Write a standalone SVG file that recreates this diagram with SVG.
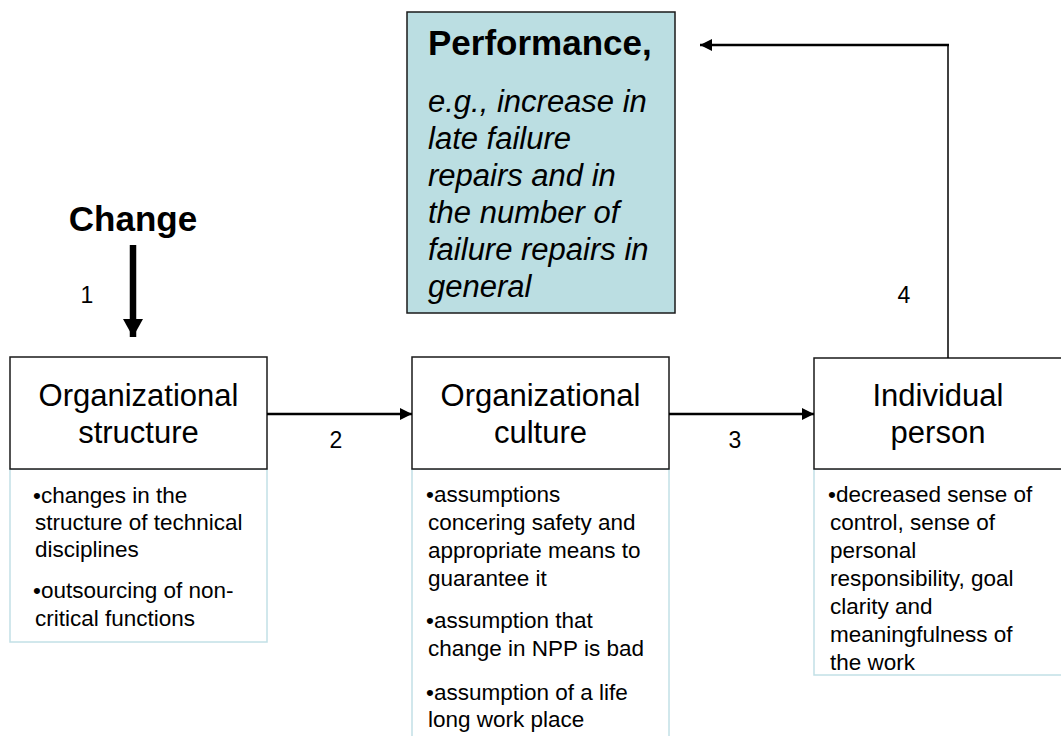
<svg xmlns="http://www.w3.org/2000/svg" width="1061" height="736" viewBox="0 0 1061 736">
<style>
.hdr{fill:#fff;stroke:#1a1a1a;stroke-width:1.5}
.blt{fill:#fff;stroke:#c2e0e6;stroke-width:1.5}
.t{font-family:"Liberation Sans",Arial,sans-serif;fill:#000}
.h{font-size:31px;text-anchor:middle}
.b{font-size:22.5px}
.n{font-size:23px}
.c{stroke:#000;fill:none}
</style>
<defs>
<marker id="ah" viewBox="0 0 12 12" refX="12" refY="6" markerWidth="12" markerHeight="12" markerUnits="userSpaceOnUse" orient="auto">
<path d="M0,0 L12,6 L0,12 Z" fill="#000"/>
</marker>
<marker id="ahBig" viewBox="0 0 18 20" refX="18" refY="10" markerWidth="18" markerHeight="20" markerUnits="userSpaceOnUse" orient="auto">
<path d="M0,0 L18,10 L0,20 Z" fill="#000"/>
</marker>
</defs>
<rect width="1061" height="736" fill="#fff"/>

<g id="performance">
<rect x="407" y="12" width="268" height="301" fill="#bbdee2" stroke="#1a1a1a" stroke-width="1.5"/>
<text class="t" x="428" y="55" font-size="35px" font-weight="bold">Performance,</text>
<text class="t" font-size="31px" font-style="italic">
<tspan x="428" y="112">e.g., increase in</tspan>
<tspan x="428" y="149">late failure</tspan>
<tspan x="428" y="186">repairs and in</tspan>
<tspan x="428" y="223">the number of</tspan>
<tspan x="428" y="260">failure repairs in</tspan>
<tspan x="428" y="297">general</tspan>
</text>
</g>

<g id="change">
<text class="t" x="133" y="231" font-size="35px" font-weight="bold" text-anchor="middle">Change</text>
</g>

<g id="org-structure">
<rect class="blt" x="10" y="469" width="257" height="173"/>
<rect class="hdr" x="10" y="357" width="257" height="112"/>
<text class="t h"><tspan x="138.5" y="406">Organizational</tspan><tspan x="138.5" y="443">structure</tspan></text>
<text class="t b">
<tspan x="33" y="503">•changes in the</tspan>
<tspan x="35" y="530">structure of technical</tspan>
<tspan x="35" y="557">disciplines</tspan>
<tspan x="33" y="598">•outsourcing of non-</tspan>
<tspan x="35" y="626">critical functions</tspan>
</text>
</g>

<g id="org-culture">
<rect class="blt" x="412" y="469" width="257" height="280"/>
<rect class="hdr" x="412" y="357" width="257" height="112"/>
<text class="t h"><tspan x="540.5" y="406">Organizational</tspan><tspan x="540.5" y="443">culture</tspan></text>
<text class="t b">
<tspan x="426" y="502">•assumptions</tspan>
<tspan x="428" y="530">concering safety and</tspan>
<tspan x="428" y="558">appropriate means to</tspan>
<tspan x="428" y="586">guarantee it</tspan>
<tspan x="426" y="628">•assumption that</tspan>
<tspan x="428" y="656">change in NPP is bad</tspan>
<tspan x="426" y="700">•assumption of a life</tspan>
<tspan x="428" y="727">long work place</tspan>
</text>
</g>

<g id="individual">
<rect class="blt" x="814" y="469" width="257" height="206"/>
<rect class="hdr" x="814" y="358" width="257" height="111"/>
<text class="t h"><tspan x="938" y="406">Individual</tspan><tspan x="938" y="443">person</tspan></text>
<text class="t b">
<tspan x="828" y="502">•decreased sense of</tspan>
<tspan x="830" y="530">control, sense of</tspan>
<tspan x="830" y="558">personal</tspan>
<tspan x="830" y="586">responsibility, goal</tspan>
<tspan x="830" y="614">clarity and</tspan>
<tspan x="830" y="642">meaningfulness of</tspan>
<tspan x="830" y="670">the work</tspan>
</text>
</g>

<g id="connectors">
<line class="c" x1="133" y1="245" x2="133" y2="337" stroke-width="6.5" marker-end="url(#ahBig)"/>
<line class="c" x1="267" y1="414" x2="412" y2="414" stroke-width="2.5" marker-end="url(#ah)"/>
<line class="c" x1="669" y1="414" x2="814" y2="414" stroke-width="2.5" marker-end="url(#ah)"/>
<polyline class="c" points="948,358 948,45" stroke-width="1.5"/>
<line class="c" x1="949" y1="45" x2="700" y2="45" stroke-width="2.5" marker-end="url(#ah)"/>
<text class="t n" x="87" y="303" text-anchor="middle">1</text>
<text class="t n" x="336" y="448" text-anchor="middle">2</text>
<text class="t n" x="735" y="448" text-anchor="middle">3</text>
<text class="t n" x="904" y="303" text-anchor="middle">4</text>
</g>
</svg>
